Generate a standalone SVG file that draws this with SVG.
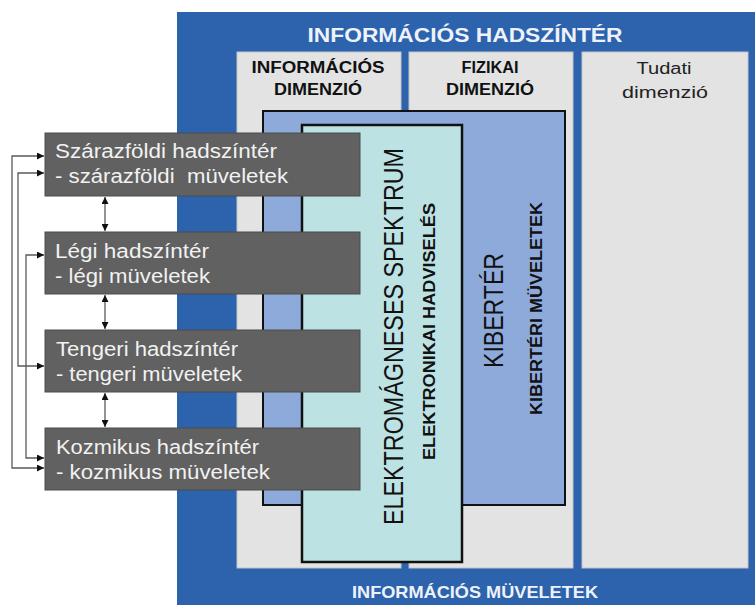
<svg xmlns="http://www.w3.org/2000/svg" width="755" height="605" viewBox="0 0 755 605">
  <style>
    text { font-family: "Liberation Sans", Arial, sans-serif; }
    .title { font-size: 21px; font-weight: bold; fill: #eef2fa; }
    .footer { font-size: 17px; font-weight: bold; fill: #eef2fa; }
    .dimlabel { font-size: 16px; font-weight: bold; fill: #111; }
    .dimplain { font-size: 16px; fill: #222; }
    .column { fill: #e3e3e3; stroke: #c4c4c4; stroke-width: 1; }
    .domain { fill: #616161; stroke: #4d4d4d; stroke-width: 1; }
    .domtext { font-size: 20px; fill: #f2f2f2; }
    .bigv { font-size: 24px; fill: #111; }
    .smallv { font-size: 15px; font-weight: bold; fill: #111; }
    .link { fill: none; stroke: #5a5a5a; stroke-width: 1.3; }
  </style>
  <defs>
    <marker id="arrow" viewBox="0 0 10 10" refX="10" refY="5" markerWidth="7" markerHeight="7" markerUnits="userSpaceOnUse" orient="auto-start-reverse">
      <path d="M0,0 L10,5 L0,10 z" fill="#111"/>
    </marker>
  </defs>

  <!-- information battlespace frame -->
  <g id="information-battlespace">
    <rect x="177" y="12" width="578" height="593" fill="#2d62ad"/>
    <text class="title" x="465" y="42" text-anchor="middle" textLength="315" lengthAdjust="spacingAndGlyphs">INFORMÁCIÓS HADSZÍNTÉR</text>
    <text class="footer" x="475" y="598" text-anchor="middle" textLength="246" lengthAdjust="spacingAndGlyphs">INFORMÁCIÓS MÜVELETEK</text>
  </g>

  <!-- three dimension columns -->
  <g id="information-dimension">
    <rect class="column" x="237" y="52" width="164" height="516"/>
    <text class="dimlabel" x="318" y="73" text-anchor="middle" textLength="133" lengthAdjust="spacingAndGlyphs">INFORMÁCIÓS</text>
    <text class="dimlabel" x="318" y="95" text-anchor="middle" textLength="88" lengthAdjust="spacingAndGlyphs">DIMENZIÓ</text>
  </g>
  <g id="physical-dimension">
    <rect class="column" x="409" y="52" width="164" height="516"/>
    <text class="dimlabel" x="490" y="73" text-anchor="middle" textLength="57" lengthAdjust="spacingAndGlyphs">FIZIKAI</text>
    <text class="dimlabel" x="490" y="95" text-anchor="middle" textLength="88" lengthAdjust="spacingAndGlyphs">DIMENZIÓ</text>
  </g>
  <g id="cognitive-dimension">
    <rect class="column" x="582" y="52" width="166" height="516"/>
    <text class="dimplain" x="664" y="74" text-anchor="middle" textLength="55" lengthAdjust="spacingAndGlyphs">Tudati</text>
    <text class="dimplain" x="665" y="98" text-anchor="middle" textLength="86" lengthAdjust="spacingAndGlyphs">dimenzió</text>
  </g>

  <!-- cyberspace -->
  <g id="cyberspace">
    <rect x="263" y="111" width="302" height="394" fill="#8eaadb" stroke="#111" stroke-width="2"/>
    <text class="bigv" transform="translate(503,310.5) rotate(-90) scale(1,1.12)" text-anchor="middle" textLength="115" lengthAdjust="spacingAndGlyphs">KIBERTÉR</text>
    <text class="smallv" transform="translate(542,308.5) rotate(-90) scale(1,1.1)" text-anchor="middle" textLength="213" lengthAdjust="spacingAndGlyphs">KIBERTÉRI MÜVELETEK</text>
  </g>

  <!-- electromagnetic spectrum -->
  <g id="em-spectrum">
    <rect x="302" y="125" width="160" height="437" fill="#bde2e3" stroke="#111" stroke-width="2.5"/>
    <text class="bigv" transform="translate(403,336.5) rotate(-90) scale(1,1.12)" text-anchor="middle" textLength="377" lengthAdjust="spacingAndGlyphs">ELEKTROMÁGNESES SPEKTRUM</text>
    <text class="smallv" transform="translate(435,331.5) rotate(-90) scale(1,1.15)" text-anchor="middle" textLength="257" lengthAdjust="spacingAndGlyphs">ELEKTRONIKAI HADVISELÉS</text>
  </g>

  <!-- physical domains -->
  <g id="land">
    <rect class="domain" x="45" y="133" width="315" height="63"/>
    <text class="domtext" x="55" y="158" textLength="222" lengthAdjust="spacingAndGlyphs">Szárazföldi hadszíntér</text>
    <text class="domtext" x="55" y="183" textLength="233" lengthAdjust="spacingAndGlyphs">- szárazföldi&#160; müveletek</text>
  </g>
  <g id="air">
    <rect class="domain" x="45" y="232" width="315" height="62"/>
    <text class="domtext" x="55" y="258" textLength="154" lengthAdjust="spacingAndGlyphs">Légi hadszíntér</text>
    <text class="domtext" x="55" y="283" textLength="155" lengthAdjust="spacingAndGlyphs">- légi müveletek</text>
  </g>
  <g id="sea">
    <rect class="domain" x="45" y="330" width="315" height="62"/>
    <text class="domtext" x="56" y="356" textLength="182" lengthAdjust="spacingAndGlyphs">Tengeri hadszíntér</text>
    <text class="domtext" x="56" y="381" textLength="186" lengthAdjust="spacingAndGlyphs">- tengeri müveletek</text>
  </g>
  <g id="space">
    <rect class="domain" x="45" y="428" width="315" height="62"/>
    <text class="domtext" x="56" y="454" textLength="203" lengthAdjust="spacingAndGlyphs">Kozmikus hadszíntér</text>
    <text class="domtext" x="56" y="479" textLength="214" lengthAdjust="spacingAndGlyphs">- kozmikus müveletek</text>
  </g>

  <!-- connectors between domains -->
  <g id="connectors">
    <line class="link" x1="105" y1="197" x2="105" y2="231" marker-start="url(#arrow)" marker-end="url(#arrow)"/>
    <line class="link" x1="105" y1="295" x2="105" y2="329" marker-start="url(#arrow)" marker-end="url(#arrow)"/>
    <line class="link" x1="105" y1="393" x2="105" y2="427" marker-start="url(#arrow)" marker-end="url(#arrow)"/>
    <path class="link" d="M44,156 H12 V468 H44" marker-start="url(#arrow)" marker-end="url(#arrow)"/>
    <path class="link" d="M44,173 H18 V366 H44" marker-start="url(#arrow)" marker-end="url(#arrow)"/>
    <path class="link" d="M44,255 H26 V458 H44" marker-start="url(#arrow)" marker-end="url(#arrow)"/>
  </g>
</svg>
